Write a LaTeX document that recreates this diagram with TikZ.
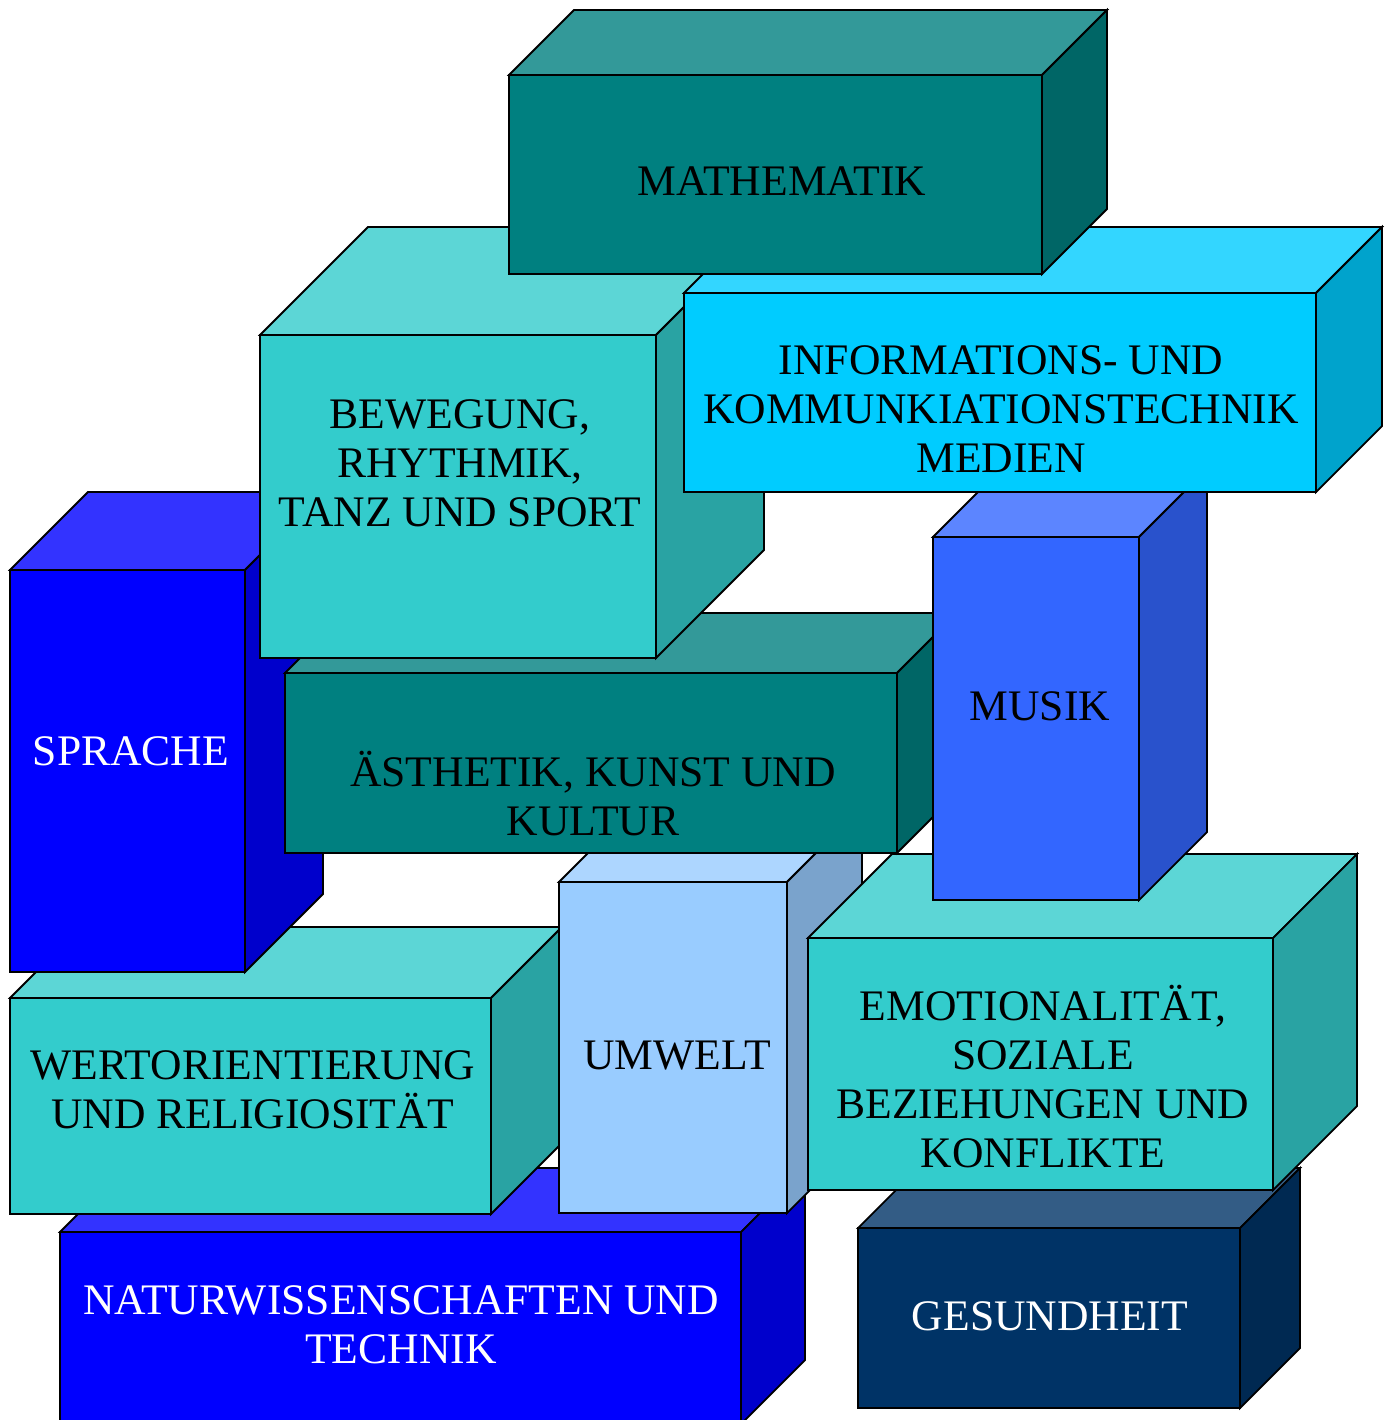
\documentclass[tikz,border=0pt]{standalone}
\usepackage{fontspec}
\setmainfont{Liberation Serif}
\usepackage{tikz}
\usetikzlibrary{positioning}

\definecolor{tealbox}{HTML}{008080}
\definecolor{cyanbox}{HTML}{33CCCC}
\definecolor{skybox}{HTML}{00CCFF}
\definecolor{bluebox}{HTML}{0000FF}
\definecolor{royalbox}{HTML}{3366FF}
\definecolor{lightbox}{HTML}{99CCFF}
\definecolor{navybox}{HTML}{003366}

\tikzset{
  frontface/.style={draw=black,line width=0.9pt,fill=#1},
  topface/.style={draw=black,line width=0.9pt,fill=#1!80!white},
  sideface/.style={draw=black,line width=0.9pt,fill=#1!80!black},
  boxlabel/.style={font=\fontsize{21.8}{24.5}\selectfont,align=center,inner sep=0pt,text=black},
}

\begin{document}
\begin{tikzpicture}[x=0.5pt,y=-0.5pt]
\useasboundingbox (0,0) rectangle (1389,1420);

\draw[topface=bluebox] (60,1232) -- (124,1168) -- (805,1168) -- (741,1232) -- cycle;
\draw[sideface=bluebox] (741,1232) -- (805,1168) -- (805,1360) -- (741,1424) -- cycle;
\draw[frontface=bluebox] (60,1232) rectangle (741,1424);
\node[boxlabel,text=white] (natur) at (401,1325) {NATURWISSENSCHAFTEN UND\\TECHNIK};

\draw[topface=navybox] (858,1228) -- (918,1168) -- (1300,1168) -- (1240,1228) -- cycle;
\draw[sideface=navybox] (1240,1228) -- (1300,1168) -- (1300,1348) -- (1240,1408) -- cycle;
\draw[frontface=navybox] (858,1228) rectangle (1240,1408);
\node[boxlabel,text=white] (gesund) at (1050,1316) {GESUNDHEIT};

\draw[topface=cyanbox] (10,998) -- (81,927) -- (562,927) -- (491,998) -- cycle;
\draw[sideface=cyanbox] (491,998) -- (562,927) -- (562,1143) -- (491,1214) -- cycle;
\draw[frontface=cyanbox] (10,998) rectangle (491,1214);
\node[boxlabel] (werte) at (253,1090) {WERTORIENTIERUNG\\UND RELIGIOSITÄT};

\draw[topface=lightbox] (559,882) -- (634,807) -- (862,807) -- (787,882) -- cycle;
\draw[sideface=lightbox] (787,882) -- (862,807) -- (862,1138) -- (787,1213) -- cycle;
\draw[frontface=lightbox] (559,882) rectangle (787,1213);
\node[boxlabel] (umwelt) at (677,1056) {UMWELT};

\draw[topface=cyanbox] (808,938) -- (892,854) -- (1357,854) -- (1273,938) -- cycle;
\draw[sideface=cyanbox] (1273,938) -- (1357,854) -- (1357,1106) -- (1273,1190) -- cycle;
\draw[frontface=cyanbox] (808,938) rectangle (1273,1190);
\node[boxlabel] (emotion) at (1043,1077) {EMOTIONALITÄT,\\SOZIALE\\BEZIEHUNGEN UND\\KONFLIKTE};

\draw[topface=bluebox] (10,570) -- (88,492) -- (323,492) -- (245,570) -- cycle;
\draw[sideface=bluebox] (245,570) -- (323,492) -- (323,894) -- (245,972) -- cycle;
\draw[frontface=bluebox] (10,570) rectangle (245,972);
\node[boxlabel,text=white] (sprache) at (131,751) {SPRACHE};

\draw[topface=tealbox] (285,673) -- (345,613) -- (957,613) -- (897,673) -- cycle;
\draw[sideface=tealbox] (897,673) -- (957,613) -- (957,793) -- (897,853) -- cycle;
\draw[frontface=tealbox] (285,673) rectangle (897,853);
\node[boxlabel] (kunst) at (593,794) {ÄSTHETIK, KUNST UND\\KULTUR};

\draw[topface=royalbox] (933,537) -- (1001,469) -- (1207,469) -- (1139,537) -- cycle;
\draw[sideface=royalbox] (1139,537) -- (1207,469) -- (1207,832) -- (1139,900) -- cycle;
\draw[frontface=royalbox] (933,537) rectangle (1139,900);
\node[boxlabel] (musik) at (1040,706) {MUSIK};

\draw[topface=cyanbox] (260,335) -- (368,227) -- (764,227) -- (656,335) -- cycle;
\draw[sideface=cyanbox] (656,335) -- (764,227) -- (764,550) -- (656,658) -- cycle;
\draw[frontface=cyanbox] (260,335) rectangle (656,658);
\node[boxlabel] (bewegung) at (460,463) {BEWEGUNG,\\RHYTHMIK,\\TANZ UND SPORT};

\draw[topface=skybox] (684,293) -- (750,227) -- (1382,227) -- (1316,293) -- cycle;
\draw[sideface=skybox] (1316,293) -- (1382,227) -- (1382,426) -- (1316,492) -- cycle;
\draw[frontface=skybox] (684,293) rectangle (1316,492);
\node[boxlabel] (medien) at (1001,409) {INFORMATIONS- UND\\KOMMUNKIATIONSTECHNIK\\MEDIEN};

\draw[topface=tealbox] (509,75) -- (574,10) -- (1107,10) -- (1042,75) -- cycle;
\draw[sideface=tealbox] (1042,75) -- (1107,10) -- (1107,209) -- (1042,274) -- cycle;
\draw[frontface=tealbox] (509,75) rectangle (1042,274);
\node[boxlabel] (mathe) at (782,181) {MATHEMATIK};

\end{tikzpicture}
\end{document}
